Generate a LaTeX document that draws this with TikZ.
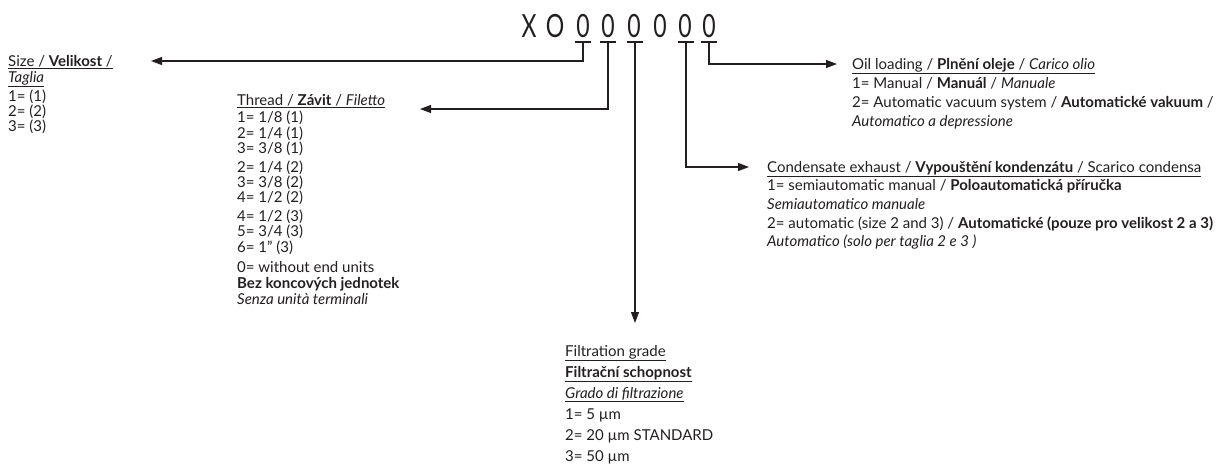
\documentclass[tikz,border=0pt]{standalone}
\usepackage{fontspec}
\setmainfont{Lato}
\newfontfamily\codefont{Lato}[FakeStretch=0.72]
\usetikzlibrary{arrows.meta}
\definecolor{ink}{HTML}{231F20}
\begin{document}
\begin{tikzpicture}[x=1pt,y=-1pt,
  txt/.style={anchor=base west, inner sep=0pt, text=ink, font=\fontsize{15}{17}\selectfont},
  digit/.style={anchor=base, inner sep=0pt, text=ink, font=\codefont\fontsize{32}{32}\selectfont},
  bar/.style={draw=ink, line width=1.3pt},
  conn/.style={draw=ink, line width=1.1pt, -{Stealth[length=11pt,width=8pt,inset=0pt]}}]
\useasboundingbox (0,0) rectangle (1227,469);
% code
\node[digit] (cX) at (529,37) {X};
\node[digit] (cO) at (555,37) {O};
\node[digit] (c1) at (583,37) {0};
\node[digit] (c2) at (608,37) {0};
\node[digit] (c3) at (634,37) {0};
\node[digit] (c4) at (660,37) {0};
\node[digit] (c5) at (685,37) {0};
\node[digit] (c6) at (709,37) {0};
\foreach \n/\x in {u1/583,u2/608,u3/635,u5/686,u6/709}{
  \coordinate (\n) at (\x,42);
  \draw[bar] (\x-8,42) -- (\x+8,42);
}
% targets
\coordinate (tSize) at (151,61);
\coordinate (tThread) at (420,109);
\coordinate (tFilt) at (635,323);
\coordinate (tCond) at (749,167);
\coordinate (tOil) at (837,64);
\draw[conn] (u1) |- (tSize);
\draw[conn] (u2) |- (tThread);
\draw[conn] (u3) -- (tFilt);
\draw[conn] (u5) |- (tCond);
\draw[conn] (u6) |- (tOil);
% Size
\node[txt] (s1) at (8,66) {\underline{Size / \textbf{Velikost} /}};
\node[txt] (s2) at (8,82) {\underline{\textit{Taglia}}};
\node[txt] (s3) at (8,101) {1= (1)};
\node[txt] (s4) at (8,116) {2= (2)};
\node[txt] (s5) at (8,131) {3= (3)};
% Thread
\node[txt] (t1) at (237,105) {\underline{Thread / \textbf{Závit} / \textit{Filetto}}};
\node[txt] (t2) at (237,122) {1= 1/8 (1)};
\node[txt] (t3) at (237,138) {2= 1/4 (1)};
\node[txt] (t4) at (237,153) {3= 3/8 (1)};
\node[txt] (t5) at (237,172) {2= 1/4 (2)};
\node[txt] (t6) at (237,187) {3= 3/8 (2)};
\node[txt] (t7) at (237,202) {4= 1/2 (2)};
\node[txt] (t8) at (237,221) {4= 1/2 (3)};
\node[txt] (t9) at (237,236) {5= 3/4 (3)};
\node[txt] (t10) at (237,252) {6= 1" (3)};
\node[txt] (t11) at (237,272) {0= without end units};
\node[txt] (t12) at (237,288) {\textbf{Bez koncových jednotek}};
\node[txt] (t13) at (237,304) {\textit{Senza unità terminali}};
% Filtration
\node[txt] (f1) at (565,356) {\underline{Filtration grade}};
\node[txt] (f2) at (565,377) {\underline{\textbf{Filtrační schopnost}}};
\node[txt] (f3) at (565,398) {\underline{\textit{Grado di filtrazione}}};
\node[txt] (f4) at (565,419) {1= 5 µm};
\node[txt] (f5) at (565,440) {2= 20 µm STANDARD};
\node[txt] (f6) at (565,461) {3= 50 µm};
% Oil
\node[txt] (o1) at (852,69) {\underline{Oil loading / \textbf{Plnění oleje} / \textit{Carico olio}}};
\node[txt] (o2) at (852,88) {1= Manual / \textbf{Manuál} / \textit{Manuale}};
\node[txt] (o3) at (852,107) {2= Automatic vacuum system / \textbf{Automatické vakuum} /};
\node[txt] (o4) at (852,126) {\textit{Automatico a depressione}};
% Condensate
\node[txt] (k1) at (767,172) {\underline{Condensate exhaust / \textbf{Vypouštění kondenzátu} / Scarico condensa}};
\node[txt] (k2) at (767,190) {1= semiautomatic manual / \textbf{Poloautomatická příručka}};
\node[txt] (k3) at (767,209) {\textit{Semiautomatico manuale}};
\node[txt] (k4) at (767,228) {2= automatic (size 2 and 3) / \textbf{Automatické (pouze pro velikost 2 a 3)}};
\node[txt] (k5) at (767,246) {\textit{Automatico (solo per taglia 2 e 3 )}};
\end{tikzpicture}
\end{document}
